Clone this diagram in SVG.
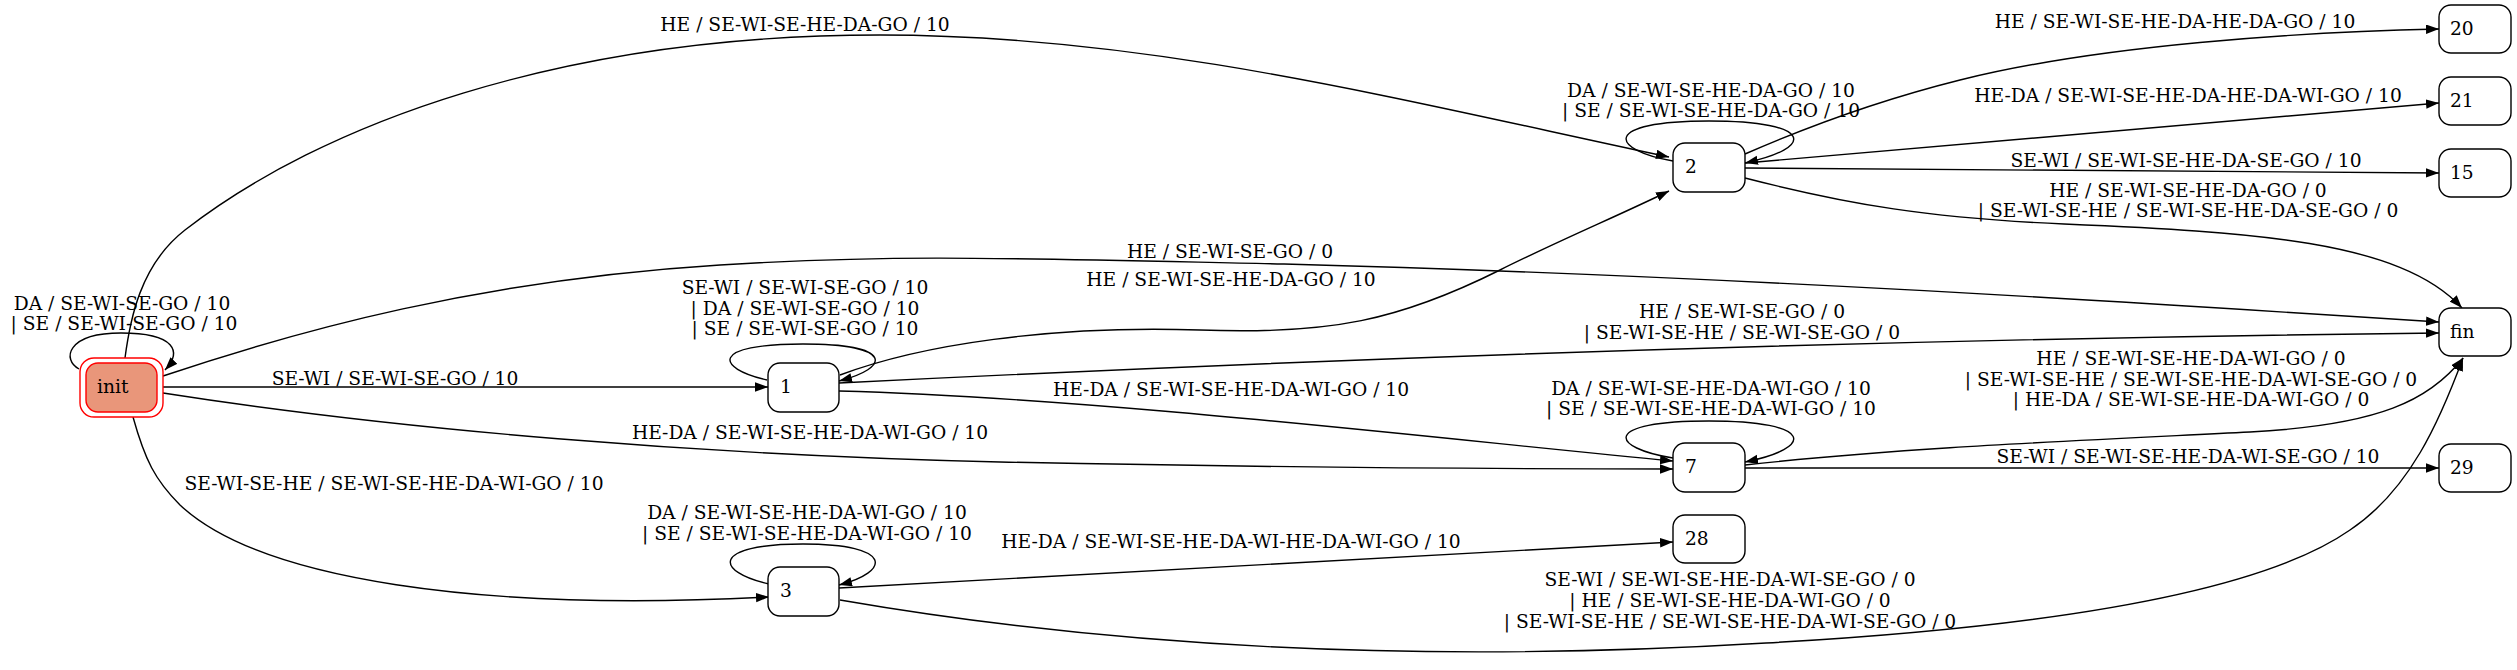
<svg xmlns="http://www.w3.org/2000/svg" width="2517" height="670" viewBox="0 0 2517 670">
<style>
text{font-family:"DejaVu Serif","Liberation Serif",serif;font-size:18.67px;fill:#000}
.lbl{text-anchor:middle}
.node rect{fill:#fff;stroke:#000;stroke-width:1.4}
.e path{fill:none;stroke:#000;stroke-width:1.4;marker-end:url(#ah)}
</style>
<defs>
<marker id="ah" markerUnits="userSpaceOnUse" markerWidth="14" markerHeight="10" refX="13" refY="4.7" orient="auto">
<path d="M0,0 L13,4.7 L0,9.4 z" fill="#000"/>
</marker>
</defs>
<rect width="2517" height="670" fill="#fff"/>
<g id="connectors" class="e">
<path d="M79,369 C62,360 66,333 121,333 C176,333 182,352 165,370"/>
<path d="M125,358 C130,320 140,265 185,230 C320,125 560,35 880,35 C1150,35 1400,100 1669,157"/>
<path d="M1673,161 C1610,150 1600,121 1709,121 C1815,121 1815,148 1745,163"/>
<path d="M1745,154 C1800,130 1880,100 1960,80 C2100,45 2300,32 2439,29"/>
<path d="M1745,163 L2439,103"/>
<path d="M1745,168 L2439,173"/>
<path d="M1745,178 C1850,205 1930,218 2064,224 C2250,232 2400,240 2462,308"/>
<path d="M163,376 C300,330 480,280 720,265 C900,254 1000,258 1284,264 C1700,275 2100,300 2439,322"/>
<path d="M163,387 L768,387"/>
<path d="M767,380 C715,368 710,344 803,344 C895,344 890,368 839,381"/>
<path d="M840,375 C920,345 1050,325 1200,330 C1330,335 1400,320 1500,270 C1560,240 1620,215 1669,191"/>
<path d="M839,383 C1200,365 1800,340 2439,333"/>
<path d="M839,391 C1100,398 1450,440 1673,461"/>
<path d="M163,393 C400,430 700,455 1000,462 C1300,468 1500,469 1673,469"/>
<path d="M1673,458 C1610,448 1600,421 1709,421 C1815,421 1815,448 1745,462"/>
<path d="M1745,465 C1900,448 2050,442 2250,432 C2380,425 2430,400 2463,358"/>
<path d="M1745,468 L2439,468"/>
<path d="M133,417 C145,460 155,480 180,505 C260,580 480,612 769,597"/>
<path d="M769,584 C715,572 710,544 803,544 C895,544 890,572 839,585"/>
<path d="M839,588 L1673,542"/>
<path d="M840,600 C1100,645 1400,665 1766,643 C2000,630 2250,600 2350,530 C2410,490 2440,420 2463,358"/>
</g>
<g id="edge-labels">
<text class="lbl" x="122" y="310">DA / SE-WI-SE-GO / 10</text>
<text class="lbl" x="124" y="330">| SE / SE-WI-SE-GO / 10</text>
<text class="lbl" x="805" y="31">HE / SE-WI-SE-HE-DA-GO / 10</text>
<text class="lbl" x="1711" y="97">DA / SE-WI-SE-HE-DA-GO / 10</text>
<text class="lbl" x="1711" y="117">| SE / SE-WI-SE-HE-DA-GO / 10</text>
<text class="lbl" x="2175" y="28">HE / SE-WI-SE-HE-DA-HE-DA-GO / 10</text>
<text class="lbl" x="2188" y="102">HE-DA / SE-WI-SE-HE-DA-HE-DA-WI-GO / 10</text>
<text class="lbl" x="2186" y="167">SE-WI / SE-WI-SE-HE-DA-SE-GO / 10</text>
<text class="lbl" x="2188" y="197">HE / SE-WI-SE-HE-DA-GO / 0</text>
<text class="lbl" x="2188" y="217">| SE-WI-SE-HE / SE-WI-SE-HE-DA-SE-GO / 0</text>
<text class="lbl" x="1230" y="258">HE / SE-WI-SE-GO / 0</text>
<text class="lbl" x="1231" y="286">HE / SE-WI-SE-HE-DA-GO / 10</text>
<text class="lbl" x="805" y="294">SE-WI / SE-WI-SE-GO / 10</text>
<text class="lbl" x="805" y="315">| DA / SE-WI-SE-GO / 10</text>
<text class="lbl" x="805" y="335">| SE / SE-WI-SE-GO / 10</text>
<text class="lbl" x="395" y="385">SE-WI / SE-WI-SE-GO / 10</text>
<text class="lbl" x="1742" y="318">HE / SE-WI-SE-GO / 0</text>
<text class="lbl" x="1742" y="339">| SE-WI-SE-HE / SE-WI-SE-GO / 0</text>
<text class="lbl" x="1231" y="396">HE-DA / SE-WI-SE-HE-DA-WI-GO / 10</text>
<text class="lbl" x="810" y="439">HE-DA / SE-WI-SE-HE-DA-WI-GO / 10</text>
<text class="lbl" x="1711" y="395">DA / SE-WI-SE-HE-DA-WI-GO / 10</text>
<text class="lbl" x="1711" y="415">| SE / SE-WI-SE-HE-DA-WI-GO / 10</text>
<text class="lbl" x="2191" y="365">HE / SE-WI-SE-HE-DA-WI-GO / 0</text>
<text class="lbl" x="2191" y="386">| SE-WI-SE-HE / SE-WI-SE-HE-DA-WI-SE-GO / 0</text>
<text class="lbl" x="2191" y="406">| HE-DA / SE-WI-SE-HE-DA-WI-GO / 0</text>
<text class="lbl" x="2188" y="463">SE-WI / SE-WI-SE-HE-DA-WI-SE-GO / 10</text>
<text class="lbl" x="394" y="490">SE-WI-SE-HE / SE-WI-SE-HE-DA-WI-GO / 10</text>
<text class="lbl" x="807" y="519">DA / SE-WI-SE-HE-DA-WI-GO / 10</text>
<text class="lbl" x="807" y="540">| SE / SE-WI-SE-HE-DA-WI-GO / 10</text>
<text class="lbl" x="1231" y="548">HE-DA / SE-WI-SE-HE-DA-WI-HE-DA-WI-GO / 10</text>
<text class="lbl" x="1730" y="586">SE-WI / SE-WI-SE-HE-DA-WI-SE-GO / 0</text>
<text class="lbl" x="1730" y="607">| HE / SE-WI-SE-HE-DA-WI-GO / 0</text>
<text class="lbl" x="1730" y="628">| SE-WI-SE-HE / SE-WI-SE-HE-DA-WI-SE-GO / 0</text>
</g>
<g id="node-init">
<rect x="80" y="358" width="83" height="59" rx="14" fill="#fff" stroke="#f00" stroke-width="1.4"/>
<rect x="86" y="363" width="71" height="49" rx="12" fill="#e9967a" stroke="#f00" stroke-width="1.4"/>
<text x="97" y="393">init</text>
</g>
<g id="node-1" class="node"><rect x="768" y="363" width="71" height="49" rx="12"/><text x="780" y="393">1</text></g>
<g id="node-2" class="node"><rect x="1673" y="143" width="72" height="49" rx="12"/><text x="1685" y="173">2</text></g>
<g id="node-20" class="node"><rect x="2439" y="5" width="72" height="48" rx="12"/><text x="2450" y="35">20</text></g>
<g id="node-21" class="node"><rect x="2439" y="77" width="72" height="48" rx="12"/><text x="2450" y="107">21</text></g>
<g id="node-15" class="node"><rect x="2439" y="149" width="72" height="48" rx="12"/><text x="2450" y="179">15</text></g>
<g id="node-fin" class="node"><rect x="2439" y="308" width="72" height="48" rx="12"/><text x="2450" y="338">fin</text></g>
<g id="node-7" class="node"><rect x="1673" y="443" width="72" height="49" rx="12"/><text x="1685" y="473">7</text></g>
<g id="node-29" class="node"><rect x="2439" y="444" width="72" height="48" rx="12"/><text x="2450" y="474">29</text></g>
<g id="node-28" class="node"><rect x="1673" y="515" width="72" height="48" rx="12"/><text x="1685" y="545">28</text></g>
<g id="node-3" class="node"><rect x="768" y="567" width="71" height="49" rx="12"/><text x="780" y="597">3</text></g>
</svg>
